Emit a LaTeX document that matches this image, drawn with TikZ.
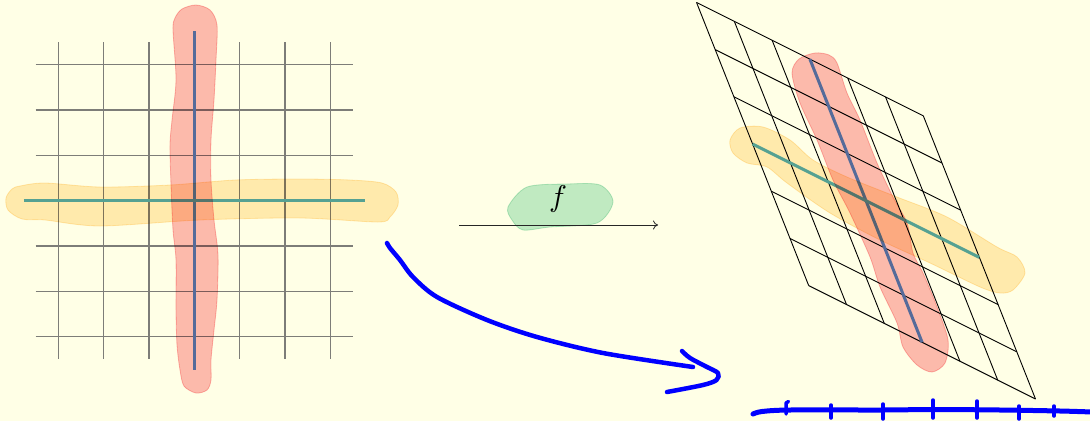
\documentclass[tikz,border=0pt]{standalone}
\usetikzlibrary{arrows.meta}

\definecolor{paper}{RGB}{255,255,230}
\definecolor{gridgray}{RGB}{125,125,120}
\definecolor{axisblue}{RGB}{87,148,207}
\definecolor{axisteal}{RGB}{86,176,195}
\definecolor{hlred}{RGB}{252,186,190}
\definecolor{hlyellow}{RGB}{255,234,191}
\definecolor{hlgreen}{RGB}{192,234,214}
\definecolor{ink}{RGB}{0,0,255}

\tikzset{
  gridline/.style={gridgray, line width=1.2pt},
  skewline/.style={black, line width=0.9pt},
  axisv/.style={axisblue, line width=3pt},
  axish/.style={axisteal, line width=3pt},
  highlight/.style={line width=0.8pt, line join=round},
  pen/.style={ink, line width=4.5pt, line cap=round, line join=round},
  maparrow/.style={black!85, line width=0.8pt, -{To[length=5pt,width=9pt]}},
}

\begin{document}
\begin{tikzpicture}[x=1pt,y=-1pt]
  % paper
  \fill[paper] (0,0) rectangle (1090,421);
  \useasboundingbox (0,0) rectangle (1090,421);

  % square grid with its two axes
  \begin{scope}[shift={(194.3,200.7)}, x={(45.33pt,0pt)}, y={(0pt,-45.33pt)}]
    \foreach \i in {-3,...,3} {
      \draw[gridline] (\i,-3.5) -- (\i,3.5);
      \draw[gridline] (-3.5,\i) -- (3.5,\i);
    }
    \draw[axisv] (0,-3.74) -- (0,3.74);
    \draw[axish] (-3.76,0) -- (3.76,0);
  \end{scope}

  % image of the grid under the linear map
  \begin{scope}[shift={(866,200.7)}, x={(37.8pt,-18.9pt)}, y={(18.7pt,-47.2pt)}]
    \foreach \i in {-3,...,3} {
      \draw[skewline] (\i,-3) -- (\i,3);
      \draw[skewline] (-3,\i) -- (3,\i);
    }
    \draw[axisv] (0,-3) -- (0,3);
    \draw[axish] (-3,0) -- (3,0);
  \end{scope}

  % highlighter strokes
  \begin{scope}[blend mode=multiply]
    \filldraw[highlight, fill=hlred, draw=hlred] plot[smooth cycle] coordinates {
      (173,30) (176,80) (172,120) (170,145) (171,185) (173,230) (176,260)
      (176,310) (177,345) (180,370) (184,386) (196,393) (207,390) (211,380)
      (211,360) (214,330) (217,300) (218,255) (214,220) (211,180) (211,140)
      (214,100) (216,60) (217,25) (210,10) (196,5) (182,9) (175,18)};
    \filldraw[highlight, fill=hlyellow, draw=hlyellow] plot[smooth cycle] coordinates {
      (20,186) (45,183) (100,187) (170,185) (235,180) (300,179) (350,180)
      (382,183) (396,192) (398,205) (390,217) (378,222) (300,218) (200,220)
      (100,226) (45,220) (22,219) (8,210) (6,198) (12,189)};

    \filldraw[highlight, fill=hlred, draw=hlred] plot[smooth cycle] coordinates {
      (815,53) (799,59) (792,73) (800,103) (817,140) (833,180) (850,213)
      (870,257) (880,287) (897,323) (903,347) (917,365) (932,372) (945,363)
      (948,340) (937,307) (923,273) (913,253) (907,223) (893,197) (877,163)
      (860,120) (847,93) (837,63) (829,55)};
    \filldraw[highlight, fill=hlyellow, draw=hlyellow] plot[smooth cycle] coordinates {
      (730,140) (740,128) (763,127) (790,140) (813,160) (847,177) (897,197)
      (947,217) (997,247) (1017,257) (1025,273) (1013,290) (1000,293)
      (980,287) (930,263) (880,240) (830,213) (787,183) (767,167) (747,163)
      (733,153)};

    \filldraw[highlight, fill=hlgreen, draw=hlgreen] plot[smooth cycle] coordinates {
      (508,207) (527,187) (567,184) (600,185) (613,202) (597,223) (550,227)
      (523,230) (512,220)};
  \end{scope}

  % the map f
  \coordinate (mapfrom) at (459,225);
  \coordinate (mapto) at (658,225);
  \draw[maparrow] (mapfrom) -- (mapto);
  \node[scale=3, inner sep=0pt] (mapname) at (558,199) {$f$};

  % freehand pen marks
  \draw[pen] plot[smooth] coordinates {
    (387,243) (390,248) (400,260) (413,277) (437,297) (487,320) (537,337)
    (603,353) (693,367)};
  \draw[pen] plot[smooth] coordinates {
    (682,351) (690,358) (706,366.5) (718,373) (716.5,380) (703,385) (667,392)};
  \draw[pen, line width=5pt] plot[smooth] coordinates {
    (753,414) (762,411.5) (790,410) (883,410) (933,409.5) (1000,410)
    (1060,411) (1092,412)};
  \draw[pen, line width=3.5pt] (788.5,401.5) -- (786,403) -- (786,414);
  \foreach \x/\a/\b in {831/405/418, 883/404/419, 933/400/418, 977/401/418,
                        1019/406/419, 1054/406/416}
    \draw[pen, line width=3.5pt] (\x,\a) -- (\x,\b);
\end{tikzpicture}
\end{document}
